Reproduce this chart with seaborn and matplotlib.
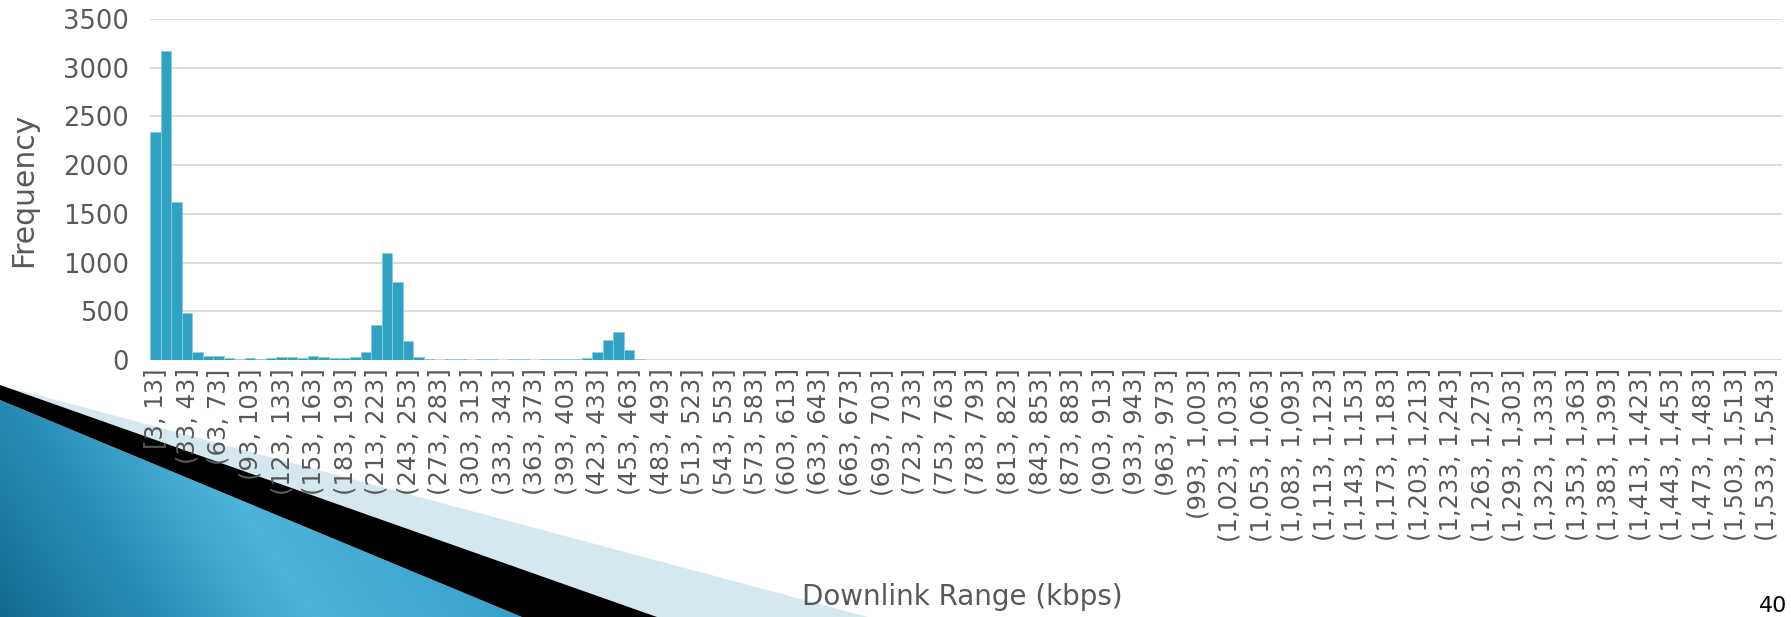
import matplotlib
matplotlib.use("Agg")
import matplotlib.pyplot as plt
import numpy as np
import pandas as pd
import seaborn as sns
from matplotlib.patches import Polygon
from matplotlib.colors import LinearSegmentedColormap

# Downlink throughput histogram: 10 kbps bins starting at 3 kbps
first_edge = 3
bin_width = 10
n_bins = 155

counts = [
    2345, 3175, 1620, 480, 80, 44, 38, 17, 14, 17,
    14, 20, 34, 27, 20, 41, 34, 24, 24, 34,
    84, 363, 1100, 802, 200, 34, 6, 4, 6, 15,
    5, 6, 8, 5, 6, 8, 5, 7, 6, 8,
    10, 17, 79, 207, 286, 103, 7, 0, 0, 0,
    0, 0, 0, 0, 0, 0, 0, 0, 0, 0,
    0, 0, 0, 0, 0, 0, 0, 0, 0, 0,
    0, 0, 0, 0, 0, 0, 0, 0, 0, 0,
    0, 0, 0, 0, 0, 0, 0, 0, 0, 0,
    0, 0, 0, 0, 0, 0, 0, 0, 0, 0,
    0, 0, 0, 0, 0, 0, 0, 0, 0, 0,
    0, 0, 0, 0, 0, 0, 0, 0, 0, 0,
    0, 0, 0, 0, 0, 0, 0, 0, 0, 0,
    0, 0, 0, 0, 0, 0, 0, 0, 0, 0,
    0, 0, 0, 0, 0, 0, 0, 0, 0, 0,
    0, 0, 0, 0, 0,
]

y_ticks = [0, 500, 1000, 1500, 2000, 2500, 3000, 3500]
x_title = "Downlink Range (kbps)"
y_title = "Frequency"
page_number = "40"


def fmt(v):
    return f"{v:,}"


lower_edges = [first_edge + bin_width * i for i in range(n_bins)]
bin_labels = [
    ("[" if i == 0 else "(") + f"{fmt(lo)}, {fmt(lo + bin_width)}]"
    for i, lo in enumerate(lower_edges)
]
label_step = 3

df = pd.DataFrame({"range": bin_labels, "freq": counts})

sns.set_style("white")
plt.rcParams["font.family"] = ["DejaVu Sans"]

W, H = 1791, 617
fig = plt.figure(figsize=(W / 100, H / 100), dpi=100)
fig.patch.set_facecolor("white")

# Slide decoration in the lower-left corner (pixel coordinates, y downward)
bg = fig.add_axes([0, 0, 1, 1], zorder=-10)
bg.set_xlim(0, W)
bg.set_ylim(H, 0)
bg.axis("off")

light_poly = Polygon([(0, 385), (868, H), (657, H)], closed=True,
                     facecolor="#D5E8F0", edgecolor="none")
black_poly = Polygon([(0, 385), (657, H), (522, H), (0, 400)], closed=True,
                     facecolor="#000000", edgecolor="none")
blue_poly = Polygon([(0, 400), (0, H), (522, H)], closed=True,
                    facecolor="none", edgecolor="none")
bg.add_patch(light_poly)
bg.add_patch(black_poly)
bg.add_patch(blue_poly)

blue_cmap = LinearSegmentedColormap.from_list(
    "slide_blue", ["#136A91", "#2A8DB8", "#4FB4DA", "#3FA6D0", "#2C90BD"])
gx = np.linspace(0, 1, 300)
gy = np.linspace(0, 1, 120)
GX, GY = np.meshgrid(gx, gy)
grad = np.clip(GX * 0.85 + (1 - GY) * 0.25, 0, 1)
img = bg.imshow(grad, cmap=blue_cmap, extent=(0, 530, H, 380),
                aspect="auto", interpolation="bilinear", zorder=0)
img.set_clip_path(blue_poly)

# Main histogram axes
left, right, top, bottom = 150, 1782, 19, 360
ax = fig.add_axes([left / W, (H - bottom) / H, (right - left) / W, (bottom - top) / H],
                  zorder=1)
ax.patch.set_alpha(0)

sns.barplot(data=df, x="range", y="freq", color="#2FA2C1", saturation=1,
            width=1.0, edgecolor="#8ACBDD", linewidth=0.6, ax=ax)

ax.set_xlim(-0.5, n_bins - 0.5)
ax.set_ylim(0, 3500)
ax.set_yticks(y_ticks)
ax.set_yticklabels([str(v) for v in y_ticks])
tick_pos = list(range(0, n_bins, label_step))
ax.set_xticks(tick_pos)
ax.set_xticklabels([bin_labels[i] for i in tick_pos], rotation=90)

ax.set_axisbelow(True)
ax.yaxis.grid(True, color="#D9D9D9", linewidth=1.3)
ax.xaxis.grid(False)
for s in ax.spines.values():
    s.set_visible(False)

text_color = "#595959"
ax.tick_params(axis="y", length=0, pad=15, labelsize=18.5, labelcolor=text_color)
ax.tick_params(axis="x", length=0, pad=6, labelsize=17.5, labelcolor=text_color)

ax.set_xlabel(x_title, fontsize=20, color=text_color)
ax.set_ylabel(y_title, fontsize=21.5, color=text_color)
ax.xaxis.set_label_coords(0.498, (bottom - 583) / (bottom - top))
ax.yaxis.set_label_coords((38 - left) / (right - left), 0.5)

fig.text(1759 / W, 1 - 612 / H, page_number, fontsize=16, color="black",
         ha="left", va="baseline")

fig.savefig("out.png", dpi=100)
